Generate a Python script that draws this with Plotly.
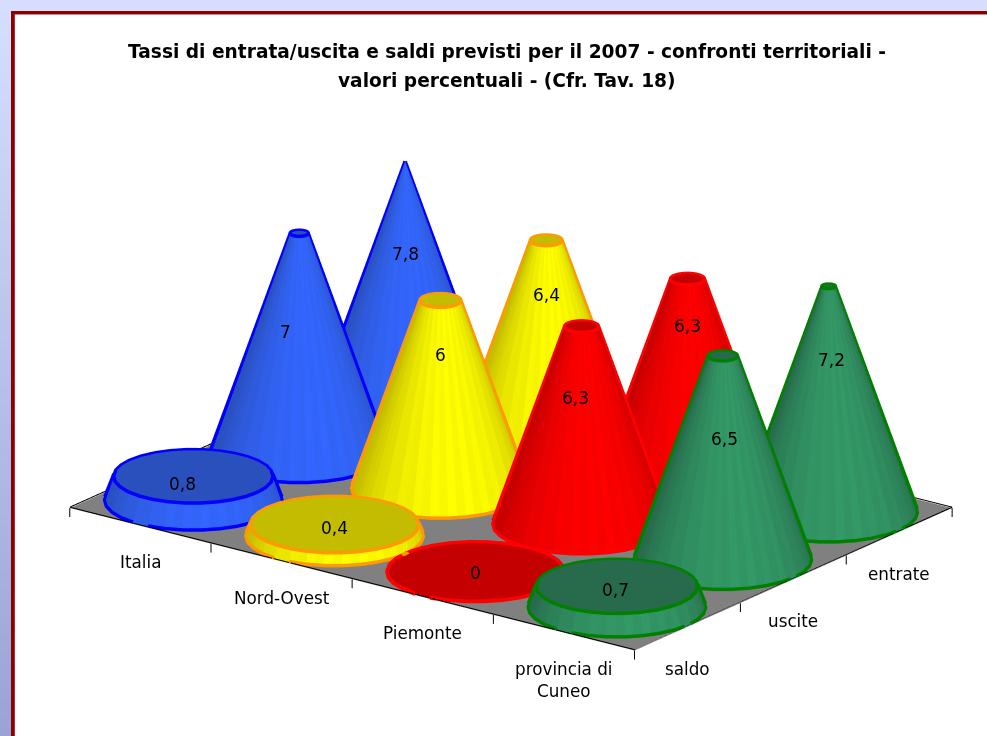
import numpy as np
import plotly.graph_objects as go

# ---- data ----
categories = ["Italia", "Nord-Ovest", "Piemonte", "provincia di<br>Cuneo"]
series_names = ["saldo", "uscite", "entrate"]
saldo = [0.8, 0.4, 0.0, 0.7]
uscite = [7.0, 6.0, 6.3, 6.5]
entrate = [7.8, 6.4, 6.3, 7.2]
title_lines = ["Tassi di entrata/uscita e saldi previsti per il 2007 - confronti territoriali -",
               "valori percentuali - (Cfr. Tav. 18)"]

# ---- style / layout ----
W, H = 987, 736
BRIGHT = ["#3366FF", "#FFFF00", "#FF0000", "#339966"]
DARK = ["#2A50BE", "#C4BC00", "#C40000", "#276B4C"]
EDGE = ["#0000FF", "#FF9900", "#FF0000", "#008000"]
FONT = "DejaVu Sans"
ZMIN, ZMAX = -0.5, 7.8
LABEL_LIFT = [[0.71, 0.80, 0.0, 0.86], [0.557, 0.713, 0.644, 0.60], [0.624, 0.734, 0.767, 0.68]]
LABEL_XSHIFT = [[-11, 0, 0, -1], [-14, 0, -6, 2], [0, 0, 0, 3]]
SIN_AZ, COS_AZ = 0.6, 0.8
SIN_EL = 0.3364
COS_EL = float(np.sqrt(1 - SIN_EL ** 2))
DIST = 6.0
ZOOM = 2.172
CELL_PX, Z_PX = 176.0, 33.4
N_SIDES, SUB = 30, 2


def polygon(radius, theta):
    step = 2 * np.pi / N_SIDES
    return radius * np.cos(step / 2) / np.cos((theta % step) - step / 2)


view_az = np.arctan2(-COS_AZ, SIN_AZ)
cone_k = (0.5 * CELL_PX) / (ZMAX * Z_PX)
sil = np.arccos(-cone_k * SIN_EL / COS_EL)
edges = np.linspace(0, 2 * np.pi, N_SIDES * SUB + 1)
theta = np.repeat(edges, 2)[1:-1]
mid = (edges[:-1] + edges[1:]) / 2
shade = np.clip(np.cos(mid - view_az - 0.2), 0, 1)
shade = shade * (1 - 0.1 * (np.arange(mid.size) % 2))
shade_v = np.repeat(shade, 2)

traces = []
# floor
traces.append(go.Surface(x=[[0, 4], [0, 4]], y=[[0, 0], [3, 3]], z=[[0, 0], [0, 0]],
                         surfacecolor=[[0, 0], [0, 0]], colorscale=[[0, "#808080"], [1, "#808080"]],
                         showscale=False, hoverinfo="skip", cmin=0, cmax=1,
                         lighting=dict(ambient=1, diffuse=0, specular=0, fresnel=0)))
fx = [0, 4, 4, 0, 0, None]
fy = [0, 0, 3, 3, 0, None]
fz = [0.03, 0.03, 0.03, 0.03, 0.03, None]
for i in range(5):
    fx += [i, i, None]
    fy += [0, 0, None]
    fz += [0, -0.28, None]
for j in range(4):
    fx += [4, 4, None]
    fy += [j, j, None]
    fz += [0, -0.28, None]
traces.append(go.Scatter3d(x=fx, y=fy, z=fz, mode="lines", line=dict(color="#000000", width=2),
                           hoverinfo="skip", showlegend=False))

rows = [saldo, uscite, entrate]
annotations = []
for j, values in enumerate(rows):
    for i, v in enumerate(values):
        cx, cy = i + 0.5, j + 0.5
        R = 0.5
        r = R * (1 - v / ZMAX)
        zt = max(v, 0.015)
        scale = [[0, DARK[i]], [1, BRIGHT[i]]]
        light = dict(ambient=1, diffuse=0, specular=0, fresnel=0)
        if v > 0:
            rad = np.array([polygon(R, theta), polygon(max(r, 1e-4), theta)])
            X = cx + rad * np.cos(theta)
            Y = cy + rad * np.sin(theta)
            Z = np.array([np.zeros_like(theta), np.full_like(theta, v)])
            traces.append(go.Surface(x=X, y=Y, z=Z, surfacecolor=np.array([shade_v, shade_v]),
                                     colorscale=scale, cmin=0, cmax=1, showscale=False,
                                     hoverinfo="skip", lighting=light))
        # top cap
        if r > 0:
            rad = np.array([polygon(r, edges), np.zeros_like(edges)])
            X = cx + rad * np.cos(edges)
            Y = cy + rad * np.sin(edges)
            Z = np.full_like(X, zt)
            traces.append(go.Surface(x=X, y=Y, z=Z, surfacecolor=np.zeros_like(X), colorscale=scale,
                                     cmin=0, cmax=1, showscale=False, hoverinfo="skip", lighting=light))
        # outlines: base, top, silhouette
        t = np.linspace(0, 2 * np.pi, N_SIDES + 1)
        lx, ly, lz = [], [], []
        for rr, zz in ((R, 0.06), (r, zt + 0.02)):
            if rr > 0:
                lx += list(cx + rr * 1.006 * np.cos(t)) + [None]
                ly += list(cy + rr * 1.006 * np.sin(t)) + [None]
                lz += [zz] * len(t) + [None]
        if v > 0:
            for sgn in (-1, 1):
                a = view_az + sgn * sil
                lx += [cx + 1.01 * R * np.cos(a), cx + 1.01 * r * np.cos(a), None]
                ly += [cy + 1.01 * R * np.sin(a), cy + 1.01 * r * np.sin(a), None]
                lz += [0.06, v, None]
        traces.append(go.Scatter3d(x=lx, y=ly, z=lz, mode="lines", line=dict(color=EDGE[i], width=7),
                                   hoverinfo="skip", showlegend=False))
        annotations.append(dict(x=cx, y=cy, z=v * LABEL_LIFT[j][i], xshift=LABEL_XSHIFT[j][i],
                                text=f"{v:g}".replace(".", ","),
                                showarrow=False, font=dict(family=FONT, size=17, color="#000000")))

for i, c in enumerate(categories):
    annotations.append(dict(x=i + 0.5, y=0, z=0, text=c, showarrow=False, xanchor="center", yanchor="top",
                            yshift=-24, font=dict(family=FONT, size=16.8, color="#000000")))
for j, s in enumerate(series_names):
    annotations.append(dict(x=4, y=j + 0.5, z=0, text=s, showarrow=False, yshift=-42,
                            font=dict(family=FONT, size=16.8, color="#000000")))

# frame and background
shapes = []
BANDS = 80
top_c = np.array([0xD6, 0xDF, 0xFF])
bot_c = np.array([0x9C, 0xA2, 0xD6])
for b in range(BANDS):
    col = top_c + (bot_c - top_c) * b / (BANDS - 1)
    shapes.append(dict(type="rect", xref="paper", yref="paper", x0=0, x1=11 / W,
                       y0=0, y1=1 - b / BANDS, line_width=0,
                       fillcolor=f"rgb({col[0]:.0f},{col[1]:.0f},{col[2]:.0f})"))
shapes.append(dict(type="rect", xref="paper", yref="paper", x0=0, x1=1, y0=1 - 11 / H, y1=1, line_width=0,
                   fillcolor="#D6DFFF"))
shapes.append(dict(type="rect", xref="paper", yref="paper", x0=14 / W, x1=15 / W, y0=0, y1=1 - 11 / H,
                   line_width=0, fillcolor="#A83030"))
shapes.append(dict(type="rect", xref="paper", yref="paper", x0=11 / W, x1=14 / W, y0=0, y1=1 - 11 / H,
                   line_width=0, fillcolor="#8B0000"))
shapes.append(dict(type="rect", xref="paper", yref="paper", x0=15 / W, x1=1, y0=1 - 15 / H, y1=1 - 14 / H,
                   line_width=0, fillcolor="#C09090"))
shapes.append(dict(type="rect", xref="paper", yref="paper", x0=11 / W, x1=1, y0=1 - 14 / H, y1=1 - 11 / H,
                   line_width=0, fillcolor="#8B0000"))

title_ann = [dict(xref="paper", yref="paper", x=507 / W, y=1 - yy / H, text=f"<b>{line}</b>", showarrow=False,
                  yanchor="middle", font=dict(family=FONT, size=18.6, color="#000000"))
             for line, yy in zip(title_lines, (52, 81))]

hidden = dict(visible=False, showgrid=False, zeroline=False, showspikes=False)
fig = go.Figure(traces)
fig.update_layout(
    width=W, height=H, margin=dict(l=0, r=0, t=0, b=0), paper_bgcolor="#FFFFFF", showlegend=False,
    shapes=shapes, annotations=title_ann, hovermode=False,
    scene=dict(
        domain=dict(x=[35 / W, 1], y=[18 / H, (H - 68) / H]),
        xaxis=dict(range=[0, 4], **hidden),
        yaxis=dict(range=[0, 3], **hidden),
        zaxis=dict(range=[ZMIN, ZMAX], **hidden),
        aspectmode="manual",
        aspectratio=dict(x=ZOOM, y=0.75 * ZOOM, z=ZOOM * (ZMAX - ZMIN) * Z_PX / (4 * CELL_PX)),
        camera=dict(projection=dict(type="orthographic"),
                    up=dict(x=0, y=0, z=1), center=dict(x=0, y=0, z=0),
                    eye=dict(x=DIST * COS_EL * SIN_AZ, y=-DIST * COS_EL * COS_AZ, z=DIST * SIN_EL)),
        annotations=annotations,
    ),
)
fig.write_html("out.html", config={"displayModeBar": False},
               post_script="document.body.style.margin='0';document.body.style.overflow='hidden';")
